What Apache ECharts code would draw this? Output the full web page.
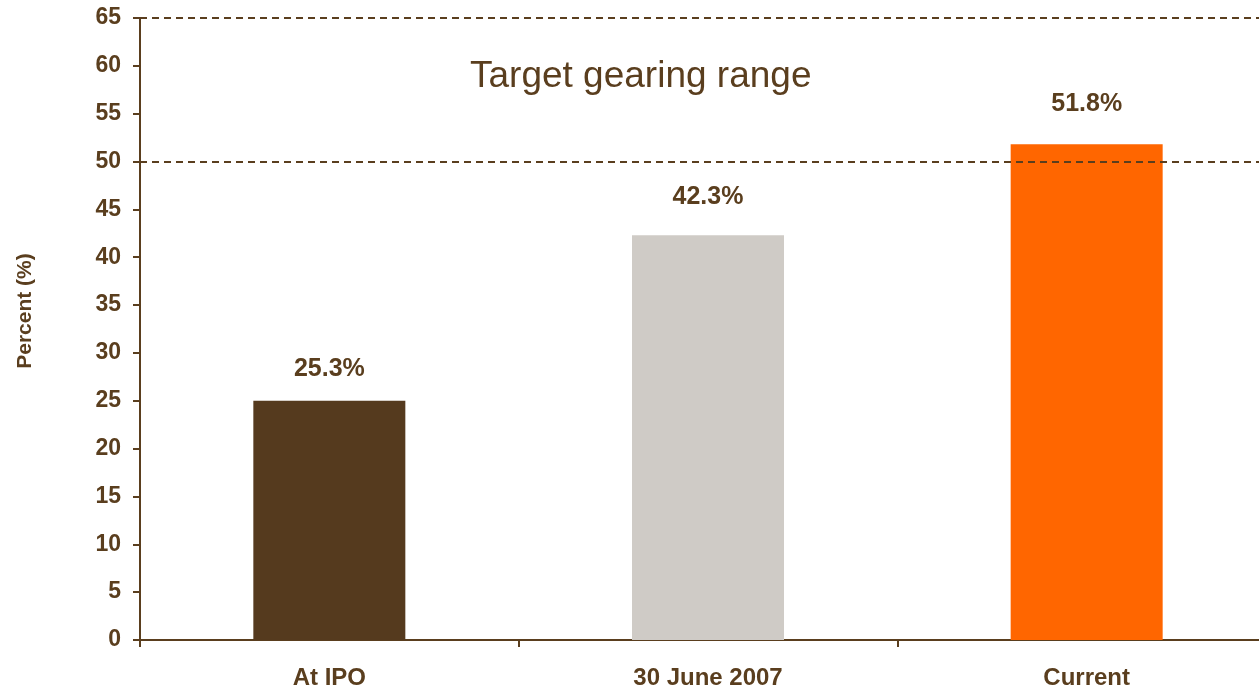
<!DOCTYPE html>
<html>
<head>
<meta charset="utf-8">
<script src="https://cdn.jsdelivr.net/npm/echarts@6/dist/echarts.min.js"></script>
<style>
  html, body { margin: 0; padding: 0; background: #fff; }
  #chart { width: 1259px; height: 689px; }
</style>
</head>
<body>
<div id="chart"></div>
<script>
// categories and values
const categories = ['At IPO', '30 June 2007', 'Current']
const gearing = [25.0, 42.3, 51.8]
const gearingLabels = ['25.3%', '42.3%', '51.8%']
const barColors = ['#553A1E', '#CFCBC6', '#FF6600']
const targetRange = [50, 65]

const brown = '#5A3E1E'
const font = 'Liberation Sans, Arial, sans-serif'
// gap between bar top and its label (the first one sits a bit lower)
const labelGaps = [19, 26, 28]

const chart = echarts.init(document.getElementById('chart'))

const option = {
  animation: false,
  // the plot runs a bit past the right edge of the picture
  grid: { left: 140, width: 1136, top: 18, bottom: 49, outerBoundsMode: 'none', containLabel: false },
  graphic: [{
    type: 'text',
    left: 470,
    top: 58,
    style: {
      text: 'Target gearing range',
      fill: brown,
      font: '37px ' + font
    }
  }, {
    // y axis title, placed a little above the axis middle as in the picture
    type: 'text',
    x: 25,
    y: 311,
    rotation: Math.PI / 2,
    style: {
      text: 'Percent (%)',
      fill: brown,
      font: 'bold 21px ' + font,
      align: 'center',
      verticalAlign: 'middle'
    }
  }],
  xAxis: {
    type: 'category',
    data: categories,
    axisLine: { lineStyle: { color: brown, width: 2 } },
    axisTick: { show: true, length: 7, lineStyle: { color: brown, width: 2 } },
    axisLabel: { color: brown, fontWeight: 'bold', fontSize: 24, fontFamily: font, margin: 26 }
  },
  yAxis: {
    type: 'value',
    min: 0,
    max: 65,
    interval: 5,
    axisLine: { show: true, lineStyle: { color: brown, width: 2 } },
    axisTick: { show: true, length: 7, lineStyle: { color: brown, width: 2 } },
    axisLabel: { color: brown, fontWeight: 'bold', fontSize: 23, fontFamily: font, margin: 19 },
    splitLine: { show: false }
  },
  series: [{
    type: 'bar',
    barWidth: 152,
    data: gearing.map((v, i) => ({
      value: v,
      itemStyle: { color: barColors[i] },
      label: { formatter: gearingLabels[i], distance: labelGaps[i] }
    })),
    label: {
      show: true,
      position: 'top',
      color: brown,
      fontWeight: 'bold',
      fontSize: 25,
      fontFamily: font
    },
    markLine: {
      silent: true,
      symbol: 'none',
      z: 10,
      label: { show: false },
      lineStyle: { color: brown, type: [7, 5], width: 2 },
      data: targetRange.map(v => ({ yAxis: v }))
    }
  }]
}

chart.setOption(option)
</script>
</body>
</html>
